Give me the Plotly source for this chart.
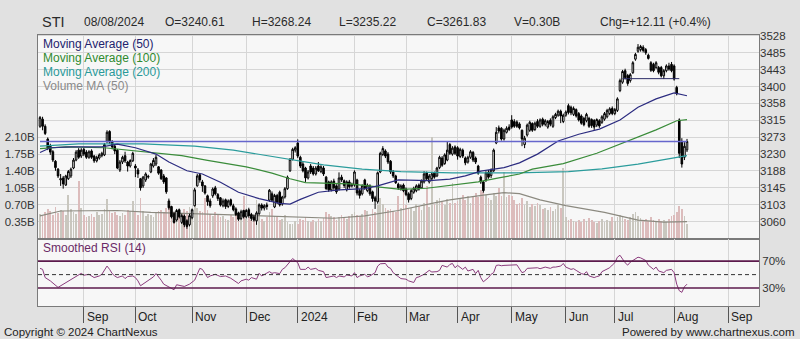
import pandas as pd
import plotly.graph_objects as go

# ---------------- data ----------------
holidays = ["2023-08-09", "2023-09-01", "2023-11-13", "2023-12-25", "2024-01-01",
            "2024-02-12", "2024-03-29", "2024-04-10", "2024-05-01", "2024-05-22",
            "2024-06-17", "2024-08-09"]

opens = [
    # Aug 2023
    3300, 3318, 3300, 3268, 3250, 3236, 3212, 3192, 3165, 3170, 3152, 3168, 3175, 3195, 3215, 3240, 3225,
    # Sep
    3242, 3235, 3222, 3238, 3225, 3213, 3220, 3226, 3228, 3262, 3287, 3262, 3250, 3240, 3190, 3210, 3226, 3210, 3200, 3213,
    # Oct
    3200, 3190, 3168, 3150, 3165, 3172, 3185, 3200, 3205, 3198, 3190, 3175, 3170, 3112, 3098, 3080, 3064, 3090, 3058, 3074, 3062, 3052,
    # Nov
    3070, 3100, 3150, 3178, 3160, 3150, 3125, 3112, 3125, 3145, 3128, 3120, 3100, 3115, 3098, 3115, 3100, 3092, 3082, 3068, 3088,
    # Dec
    3072, 3090, 3078, 3072, 3062, 3080, 3102, 3094, 3102, 3114, 3130, 3097, 3126, 3134, 3104, 3122, 3143, 3188, 3217, 3240,
    # Jan 2024
    3258, 3222, 3205, 3195, 3170, 3200, 3195, 3180, 3200, 3186, 3195, 3172, 3160, 3140, 3162, 3150, 3142, 3172, 3163, 3140, 3160, 3150,
    # Feb
    3152, 3165, 3138, 3130, 3165, 3138, 3150, 3135, 3120, 3110, 3185, 3229, 3238, 3230, 3212, 3185, 3175, 3154, 3142, 3152,
    # Mar
    3142, 3130, 3118, 3134, 3138, 3152, 3145, 3160, 3183, 3160, 3168, 3182, 3175, 3196, 3220, 3206, 3215, 3254, 3230, 3248,
    # Apr
    3246, 3224, 3240, 3220, 3210, 3222, 3234, 3220, 3200, 3172, 3160, 3165, 3185, 3176, 3188, 3258, 3296, 3295, 3268, 3285, 3298,
    # May
    3316, 3312, 3311, 3306, 3290, 3254, 3278, 3290, 3307, 3292, 3312, 3300, 3318, 3305, 3298, 3315, 3300, 3322, 3328, 3338, 3312,
    # Jun
    3328, 3352, 3348, 3330, 3342, 3332, 3326, 3320, 3314, 3320, 3317, 3315, 3303, 3314, 3310, 3318, 3324, 3332, 3345,
    # Jul
    3332, 3340, 3390, 3411, 3440, 3428, 3415, 3435, 3469, 3489, 3493, 3499, 3493, 3479, 3460, 3456, 3448, 3448, 3448, 3427, 3440, 3452, 3456,
    # Aug
    3452, 3398, 3316, 3262, 3222, 3240.61,
]
highs = [
    3326, 3324, 3305, 3272, 3256, 3240, 3215, 3195, 3180, 3175, 3178, 3190, 3196, 3220, 3240, 3245, 3245,
    3246, 3240, 3240, 3242, 3228, 3226, 3232, 3236, 3258, 3290, 3290, 3265, 3254, 3243, 3215, 3226, 3236, 3213, 3217, 3236,
    3205, 3195, 3170, 3175, 3184, 3178, 3208, 3220, 3228, 3200, 3192, 3180, 3172, 3118, 3100, 3085, 3092, 3093, 3080, 3078, 3066, 3080,
    3093, 3145, 3180, 3182, 3165, 3152, 3128, 3118, 3146, 3150, 3132, 3122, 3118, 3118, 3116, 3118, 3105, 3096, 3085, 3090, 3090,
    3092, 3095, 3082, 3078, 3086, 3106, 3106, 3104, 3108, 3142, 3136, 3130, 3130, 3138, 3125, 3147, 3176, 3220, 3246, 3250,
    3267, 3226, 3210, 3198, 3190, 3205, 3200, 3200, 3210, 3202, 3200, 3175, 3163, 3164, 3168, 3154, 3184, 3178, 3166, 3164, 3165, 3158,
    3189, 3168, 3142, 3154, 3168, 3156, 3154, 3138, 3125, 3186, 3236, 3250, 3242, 3235, 3215, 3190, 3178, 3158, 3154, 3156,
    3146, 3134, 3142, 3148, 3154, 3156, 3166, 3187, 3186, 3180, 3184, 3186, 3198, 3226, 3225, 3232, 3262, 3258, 3250, 3252,
    3250, 3246, 3244, 3224, 3226, 3240, 3238, 3224, 3203, 3176, 3163, 3187, 3190, 3194, 3244, 3298, 3302, 3298, 3294, 3300, 3305,
    3328, 3318, 3315, 3310, 3292, 3276, 3307, 3314, 3310, 3312, 3318, 3320, 3322, 3318, 3316, 3320, 3328, 3334, 3342, 3342, 3332,
    3340, 3357, 3352, 3350, 3345, 3336, 3330, 3324, 3334, 3324, 3320, 3318, 3320, 3318, 3328, 3336, 3344, 3348, 3350,
    3346, 3373, 3420, 3442, 3445, 3432, 3434, 3464, 3485, 3507, 3505, 3504, 3497, 3483, 3464, 3460, 3464, 3452, 3452, 3444, 3456, 3460, 3462,
    3456, 3402, 3320, 3270, 3260, 3268.24,
]
lows = [
    3296, 3290, 3278, 3240, 3228, 3210, 3188, 3170, 3150, 3143, 3150, 3165, 3170, 3192, 3212, 3218, 3220,
    3225, 3218, 3218, 3218, 3208, 3209, 3216, 3222, 3225, 3258, 3256, 3242, 3230, 3192, 3185, 3205, 3208, 3186, 3196, 3210,
    3172, 3170, 3138, 3145, 3160, 3168, 3182, 3196, 3200, 3178, 3165, 3155, 3130, 3090, 3068, 3055, 3060, 3068, 3054, 3046, 3042, 3048,
    3066, 3098, 3148, 3158, 3135, 3128, 3100, 3095, 3120, 3126, 3112, 3098, 3096, 3092, 3094, 3098, 3086, 3074, 3062, 3064, 3068,
    3068, 3070, 3062, 3060, 3052, 3076, 3088, 3088, 3090, 3110, 3110, 3094, 3104, 3098, 3100, 3118, 3140, 3185, 3214, 3234,
    3220, 3195, 3184, 3160, 3166, 3180, 3176, 3176, 3185, 3182, 3175, 3140, 3135, 3136, 3140, 3130, 3138, 3160, 3145, 3136, 3143, 3146,
    3148, 3126, 3118, 3126, 3140, 3134, 3125, 3110, 3092, 3105, 3182, 3225, 3220, 3205, 3180, 3170, 3155, 3140, 3138, 3134,
    3124, 3108, 3114, 3130, 3134, 3138, 3142, 3156, 3163, 3156, 3165, 3168, 3172, 3192, 3198, 3203, 3212, 3228, 3226, 3228,
    3216, 3220, 3220, 3202, 3206, 3218, 3210, 3205, 3178, 3155, 3133, 3160, 3168, 3170, 3185, 3255, 3282, 3264, 3264, 3282, 3288,
    3294, 3296, 3296, 3292, 3250, 3245, 3274, 3286, 3286, 3288, 3296, 3296, 3300, 3300, 3294, 3300, 3296, 3318, 3324, 3308, 3308,
    3324, 3330, 3328, 3326, 3322, 3312, 3304, 3300, 3310, 3296, 3296, 3291, 3298, 3296, 3306, 3314, 3320, 3328, 3328,
    3328, 3336, 3386, 3407, 3418, 3402, 3410, 3432, 3465, 3485, 3488, 3486, 3480, 3468, 3437, 3436, 3444, 3431, 3423, 3419, 3436, 3440, 3436,
    3415, 3378, 3220, 3196, 3215, 3235.22,
]
closes = [
    3322, 3300, 3282, 3245, 3235, 3215, 3196, 3175, 3168, 3155, 3175, 3186, 3192, 3215, 3235, 3222, 3240,
    3230, 3222, 3236, 3222, 3213, 3222, 3228, 3232, 3254, 3285, 3260, 3248, 3238, 3195, 3210, 3222, 3213, 3200, 3214, 3232,
    3195, 3180, 3145, 3172, 3180, 3174, 3205, 3214, 3222, 3182, 3168, 3160, 3135, 3095, 3072, 3058, 3088, 3072, 3075, 3052, 3048, 3075,
    3090, 3140, 3175, 3165, 3150, 3132, 3110, 3100, 3142, 3130, 3118, 3102, 3112, 3098, 3112, 3102, 3090, 3078, 3066, 3085, 3072,
    3088, 3075, 3068, 3064, 3082, 3102, 3094, 3100, 3098, 3139, 3114, 3126, 3108, 3102, 3122, 3143, 3172, 3217, 3242, 3246,
    3225, 3200, 3188, 3170, 3185, 3185, 3180, 3195, 3188, 3198, 3180, 3143, 3140, 3160, 3145, 3135, 3170, 3165, 3151, 3160, 3148, 3153,
    3185, 3132, 3126, 3150, 3145, 3152, 3130, 3118, 3112, 3183, 3232, 3244, 3225, 3210, 3185, 3175, 3158, 3145, 3150, 3138,
    3128, 3115, 3138, 3144, 3150, 3142, 3162, 3180, 3168, 3175, 3180, 3172, 3195, 3222, 3202, 3228, 3240, 3232, 3245, 3232,
    3225, 3242, 3225, 3208, 3222, 3236, 3215, 3210, 3182, 3160, 3138, 3183, 3172, 3190, 3240, 3285, 3288, 3268, 3290, 3295, 3292,
    3298, 3300, 3300, 3296, 3268, 3270, 3303, 3310, 3290, 3308, 3300, 3316, 3305, 3314, 3312, 3305, 3324, 3330, 3338, 3326, 3328,
    3336, 3335, 3334, 3345, 3326, 3316, 3308, 3304, 3330, 3300, 3302, 3298, 3317, 3301, 3324, 3332, 3340, 3344, 3332,
    3342, 3369, 3415, 3438, 3423, 3408, 3430, 3460, 3481, 3499, 3501, 3491, 3485, 3471, 3441, 3440, 3460, 3436, 3427, 3440, 3452, 3444, 3440,
    3419, 3382, 3232, 3205, 3249.72, 3261.83,
]
volumes_b = [
    0.52, 0.48, 0.55, 0.62, 0.58, 0.50, 0.66, 0.54, 0.60, 0.57, 0.49, 0.91, 0.62, 0.55, 0.52, 1.20, 0.64,
    0.50, 0.45, 0.48, 0.52, 0.46, 0.55, 0.49, 0.51, 0.62, 0.82, 0.58, 0.54, 0.56, 0.50, 0.47, 0.53, 0.49, 0.60, 0.58, 0.78,
    0.55, 0.50, 0.85, 0.58, 0.48, 0.52, 0.50, 0.46, 0.55, 0.58, 0.60, 0.56, 0.65, 0.70, 0.62, 0.55, 0.58, 0.50, 0.54, 0.62, 0.57, 0.66,
    0.60, 0.72, 0.65, 0.58, 0.55, 0.85, 0.60, 0.52, 0.48, 0.55, 0.50, 0.45, 0.48, 0.42, 0.40, 0.50, 0.46, 0.52, 0.48, 0.44, 0.88,
    0.42, 0.45, 0.40, 0.44, 0.80, 0.50, 0.42, 0.38, 0.46, 0.55, 0.62, 0.48, 0.45, 0.40, 0.42, 0.50, 0.35, 0.30, 0.32, 0.38,
    0.30, 0.42, 0.40, 0.45, 0.38, 0.36, 0.40, 0.35, 0.42, 0.38, 0.44, 0.55, 0.52, 0.48, 0.45, 0.40, 0.46, 0.50, 0.44, 0.42, 0.48, 0.52,
    0.55, 0.50, 0.48, 0.52, 0.60, 0.58, 0.45, 0.62, 0.55, 0.70, 0.85, 0.72, 0.65, 0.60, 0.62, 0.58, 0.56, 0.90, 0.64, 1.05,
    0.70, 0.62, 0.65, 0.58, 0.72, 0.68, 0.60, 0.75, 1.10, 0.66, 2.12, 0.72, 0.80, 0.85, 0.76, 0.70, 0.82, 0.75, 1.15, 0.74,
    0.78, 0.85, 0.92, 0.80, 0.88, 0.75, 0.90, 0.95, 0.86, 1.02, 0.98, 0.92, 0.85, 0.80, 0.96, 0.88, 1.05, 0.90, 1.39, 0.86, 0.92,
    0.88, 0.80, 0.72, 0.75, 0.85, 0.70, 0.78, 0.66, 0.72, 0.68, 0.74, 0.70, 0.62, 0.65, 0.60, 0.66, 0.58, 0.62, 0.70, 0.64, 1.46,
    0.45, 0.40, 0.42, 0.38, 0.36, 0.40, 0.35, 0.42, 0.38, 0.44, 0.40, 0.36, 0.33, 0.38, 0.42, 0.35, 0.40, 0.37, 0.45,
    0.38, 0.45, 0.50, 0.48, 0.42, 0.40, 0.45, 0.52, 0.55, 0.48, 0.44, 0.40, 0.42, 0.38, 0.46, 0.40, 0.36, 0.42, 0.38, 0.40, 0.35, 0.42, 0.48,
    0.50, 0.55, 0.68, 0.62, 0.48, 0.30,
]

# moving averages read at sample points (trading-day index, value)
ma50_idx = [0, 4, 12, 24, 30, 37, 45, 50, 57, 63, 70, 77, 85, 93, 97, 101, 108, 116, 126, 131, 139, 151,
            159, 165, 171, 180, 186, 193, 201, 209, 217, 225, 232, 239, 246, 251]
ma50_val = [3234, 3246, 3248, 3248, 3255, 3246, 3230, 3210, 3188, 3180, 3159, 3134, 3118, 3106, 3104, 3116,
            3134, 3140, 3143, 3150, 3165, 3163, 3167, 3175, 3187, 3196, 3208, 3230, 3263, 3280, 3293, 3316,
            3348, 3369, 3384, 3377]
ma100_idx = [0, 10, 25, 40, 55, 65, 80, 90, 97, 103, 120, 130, 140, 150, 160, 170, 178, 186, 191, 203,
             216, 229, 239, 247, 251]
ma100_val = [3244, 3248, 3246, 3236, 3226, 3214, 3198, 3182, 3168, 3158, 3155, 3148, 3141, 3144, 3152,
             3160, 3170, 3180, 3192, 3206, 3232, 3266, 3291, 3314, 3317]
ma200_idx = [0, 15, 40, 60, 75, 97, 110, 125, 140, 160, 185, 205, 218, 232, 242, 251]
ma200_val = [3250, 3256, 3256, 3250, 3240, 3216, 3203, 3192, 3186, 3183, 3183, 3186, 3193, 3205, 3217, 3226]
volma_idx = [0, 8, 30, 43, 62, 88, 107, 114, 126, 139, 153, 159, 172, 180, 186, 194, 204, 219, 232, 242, 251]
volma_val = [0.47, 0.57, 0.58, 0.54, 0.51, 0.47, 0.44, 0.42, 0.47, 0.58, 0.74, 0.80, 0.90, 0.95, 0.93,
             0.80, 0.68, 0.54, 0.38, 0.34, 0.35]

# smoothed RSI(14) read at sample points
rsi_idx = [0, 1, 2, 4, 7, 8, 10, 12, 14, 16, 17, 19, 21, 23, 24, 26, 27, 28, 29, 30, 32, 33, 34, 36, 37, 38,
           39, 41, 42, 44, 45, 46, 47, 48, 50, 52, 53, 54, 56, 58, 60, 61, 62, 63, 64, 65, 66, 68, 70, 72,
           74, 75, 77, 78, 79, 80, 81, 82, 84, 85, 86, 87, 89, 90, 91, 93, 94, 95, 97, 98, 100, 101, 103,
           104, 105, 107, 108, 110, 111, 112, 114, 115, 116, 118, 119, 121, 122, 123, 124, 126, 127, 128,
           130, 131, 132, 134, 135, 136, 137, 139, 140, 142, 143, 145, 146, 147, 148, 149, 151, 152, 154,
           155, 156, 158, 159, 160, 161, 162, 164, 165, 166, 168, 169, 170, 171, 172, 174, 175, 176, 177,
           178, 179, 180, 182, 184, 185, 187, 188, 189, 191, 193, 194, 195, 196, 198, 199, 200, 202, 203,
           204, 206, 207, 208, 210, 211, 212, 213, 215, 216, 217, 218, 220, 221, 222, 223, 224, 225, 227,
           228, 229, 230, 232, 233, 235, 236, 237, 238, 239, 240, 242, 243, 245, 246, 247, 248, 249, 250, 251]
rsi_val = [59.3, 57.8, 45.6, 40.7, 31.0, 33.4, 38.3, 43.2, 48.0, 51.9, 49.0, 50.5, 45.6, 48.0, 50.5, 62.7,
           57.8, 51.5, 48.0, 45.6, 48.0, 44.1, 47.1, 48.0, 45.6, 40.7, 33.4, 38.3, 40.7, 46.6, 51.5, 47.1,
           41.7, 35.8, 31.9, 27.5, 34.9, 34.4, 32.4, 35.8, 41.7, 50.5, 59.3, 57.8, 50.5, 45.6, 48.0, 50.5,
           47.1, 48.0, 44.6, 41.7, 36.8, 40.7, 41.7, 43.2, 41.7, 45.6, 43.2, 51.9, 48.0, 50.5, 54.4, 51.9,
           52.9, 51.5, 57.8, 60.2, 70.0, 73.9, 67.6, 57.8, 57.8, 61.2, 57.8, 59.3, 56.3, 54.4, 45.6, 46.6,
           48.0, 45.6, 48.0, 46.6, 49.5, 48.0, 52.9, 45.6, 48.0, 50.5, 46.6, 48.0, 52.9, 62.7, 66.1, 66.6,
           61.2, 59.3, 52.9, 47.1, 44.1, 43.2, 40.7, 38.3, 45.6, 46.6, 48.0, 50.5, 56.3, 53.9, 54.4, 56.3,
           63.7, 61.2, 65.1, 66.6, 60.2, 63.7, 57.8, 61.2, 55.4, 57.8, 51.5, 56.3, 45.6, 39.3, 45.6, 50.5,
           52.9, 63.7, 64.2, 63.2, 63.7, 64.2, 64.6, 64.6, 52.9, 54.4, 59.3, 60.2, 60.2, 58.8, 60.2, 61.2,
           59.3, 61.2, 61.2, 62.7, 66.6, 61.2, 57.8, 58.8, 56.3, 51.5, 50.5, 54.4, 48.0, 45.6, 47.1, 48.0,
           54.4, 58.8, 60.2, 64.2, 67.6, 75.9, 78.8, 67.6, 64.1, 68.5, 71.0, 75.9, 74.9, 71.0, 64.1, 60.2,
           57.8, 61.2, 55.4, 52.9, 56.3, 57.8, 52.9, 35.8, 26.1, 23.6, 31.9, 35.8]

support_idx = [226, 248]
support_level = 3420

price_ticks = [3060, 3103, 3145, 3188, 3230, 3273, 3315, 3358, 3400, 3443, 3485, 3528]
vol_ticks = [0.35, 0.70, 1.05, 1.40, 1.75, 2.10]
rsi_ticks = [30, 70]
month_names = {1: "2024", 2: "Feb", 3: "Mar", 4: "Apr", 5: "May", 6: "Jun", 7: "Jul",
               8: "Aug", 9: "Sep", 10: "Oct", 11: "Nov", 12: "Dec"}

# ---------------- build ----------------
all_days = [d for d in pd.bdate_range("2023-08-08", "2024-10-31")
            if d.strftime("%Y-%m-%d") not in holidays]
n = min(len(opens), len(highs), len(lows), len(closes), len(volumes_b))
dates = [d.strftime("%Y-%m-%d") for d in all_days[:n]]

FONT = "Liberation Sans, Arial, sans-serif"
W, H = 800, 339
PX0, PX1 = 38, 759
xdom = [PX0 / W, PX1 / W]
main_dom = [1 - 237 / H, 1 - 30 / H]
rsi_dom = [1 - 306 / H, 1 - 237 / H]

px_per_day = (687 - 40) / (n - 1)
day_ms = 86400000
x_start = all_days[0] - pd.Timedelta(days=(40 - PX0) / px_per_day)
k_end = (PX1 - 40) / px_per_day
x_end = all_days[int(k_end)] + pd.Timedelta(days=k_end - int(k_end))

month_starts = []
seen = set()
for d in all_days:
    key = (d.year, d.month)
    if key not in seen and d >= pd.Timestamp("2023-09-01") and d <= x_end:
        seen.add(key)
        month_starts.append(d)
month_vals = [d.strftime("%Y-%m-%d") for d in month_starts]

price_range = [3017.5, 3531]
step = (price_ticks[-1] - price_ticks[0]) / (len(price_ticks) - 1)
base = price_ticks[0] - step
vol_range = [(p - base) / step * vol_ticks[0] for p in price_range]

rangebreaks = [dict(bounds=["sat", "mon"]), dict(values=holidays)]

fig = go.Figure()

# volume bars: thin, light gray on up days, light pink on down days
vol_colors = ["#c9c7bf" if closes[i] >= opens[i] else "#dcbcbc" for i in range(n)]
fig.add_trace(go.Bar(x=dates, y=volumes_b[:n], marker=dict(color=vol_colors, line=dict(width=0)),
                     width=0.3 * day_ms, xaxis="x", yaxis="y", hoverinfo="skip"))
fig.add_trace(go.Scatter(x=[dates[i] for i in volma_idx], y=volma_val, mode="lines",
                         line=dict(color="#8c8a80", width=1.2), xaxis="x", yaxis="y"))

for idx, val, col in [(ma200_idx, ma200_val, "#2b9c9c"),
                      (ma100_idx, ma100_val, "#3a8c3a"),
                      (ma50_idx, ma50_val, "#2c2c80")]:
    fig.add_trace(go.Scatter(x=[dates[i] for i in idx], y=val, mode="lines",
                             line=dict(color=col, width=1.2), xaxis="x", yaxis="y2"))

fig.add_trace(go.Scatter(x=[dates[0], dates[n - 1]], y=[closes[n - 1]] * 2, mode="lines",
                         line=dict(color="#6666cc", width=1.5), xaxis="x", yaxis="y2"))
fig.add_trace(go.Scatter(x=[dates[support_idx[0]], dates[support_idx[1]]], y=[support_level] * 2,
                         mode="lines", line=dict(color="#2a2a66", width=1), xaxis="x", yaxis="y2"))

fig.add_trace(go.Candlestick(
    x=dates, open=opens[:n], high=highs[:n], low=lows[:n], close=closes[:n],
    increasing=dict(line=dict(color="#000000", width=1), fillcolor="#ffffff"),
    decreasing=dict(line=dict(color="#000000", width=1), fillcolor="#000000"),
    whiskerwidth=0, xaxis="x", yaxis="y2", hoverinfo="skip"))

fig.add_trace(go.Scatter(x=[dates[i] for i in rsi_idx], y=rsi_val, mode="lines",
                         line=dict(color="#8a3a7c", width=1), xaxis="x2", yaxis="y3"))

grid = "#d6d6d6"
border = "#7a7a7a"
fig.update_layout(
    width=W, height=H, autosize=False,
    margin=dict(l=0, r=0, t=0, b=0),
    paper_bgcolor="#e1e1e1", plot_bgcolor="#f7f7f7",
    showlegend=False, boxgap=0.12, bargap=0,
    font=dict(family=FONT, size=12, color="#222222"),
    xaxis=dict(domain=xdom, anchor="y", type="date", range=[x_start, x_end],
               rangebreaks=rangebreaks, tickvals=month_vals, showticklabels=False,
               showgrid=True, gridcolor=grid, gridwidth=1, ticks="",
               showline=True, mirror=True, linecolor=border, linewidth=1,
               rangeslider=dict(visible=False), zeroline=False),
    xaxis2=dict(domain=xdom, anchor="y3", type="date", matches="x",
                rangebreaks=rangebreaks, tickvals=month_vals, showticklabels=False,
                showgrid=True, gridcolor=grid, gridwidth=1,
                ticks="outside", ticklen=16, tickcolor="#555555", tickwidth=1,
                showline=True, mirror=True, linecolor=border, linewidth=1, zeroline=False),
    yaxis=dict(domain=main_dom, anchor="x", side="left", range=vol_range,
               tickvals=vol_ticks, ticktext=["%.2fB" % v for v in vol_ticks],
               showgrid=False, zeroline=False, ticks="",
               tickfont=dict(size=11.5, color="#333333"),
               showline=True, mirror=True, linecolor=border, linewidth=1),
    yaxis2=dict(overlaying="y", anchor="x", side="right", range=price_range,
                tickvals=price_ticks, ticktext=[str(v) for v in price_ticks],
                showgrid=True, gridcolor=grid, gridwidth=1, zeroline=False, ticks="",
                tickfont=dict(size=11.5, color="#333333")),
    yaxis3=dict(domain=rsi_dom, anchor="x2", side="right", range=[2.6, 103.7],
                tickvals=rsi_ticks, ticktext=["%d%%" % v for v in rsi_ticks],
                showgrid=False, zeroline=False, ticks="",
                tickfont=dict(size=11.5, color="#333333"),
                showline=True, mirror=True, linecolor=border, linewidth=1),
)

for lvl in rsi_ticks:
    fig.add_shape(type="line", xref="x2 domain", yref="y3", x0=0, x1=1, y0=lvl, y1=lvl,
                  line=dict(color="#5c1a4c", width=1.6))
fig.add_shape(type="line", xref="x2 domain", yref="y3", x0=0, x1=1, y0=50, y1=50,
              line=dict(color="#333333", width=1, dash="4px,3px"))

ann = []
def txt(x_px, y_px, s, size=12, color="#222222", anchor="left"):
    ann.append(dict(x=x_px / W, y=1 - y_px / H, xref="paper", yref="paper", text=s,
                    showarrow=False, xanchor=anchor, yanchor="middle",
                    font=dict(family=FONT, size=size, color=color)))

chg = closes[n - 1] - closes[n - 2]
pct = chg / closes[n - 2] * 100
header = [(40, "STI", 14.5), (82, pd.Timestamp(dates[n - 1]).strftime("%d/%m/%Y"), 12),
          (163, "O=%.2f" % opens[n - 1], 12), (250, "H=%.2f" % highs[n - 1], 12),
          (337, "L=%.2f" % lows[n - 1], 12), (425, "C=%.2f" % closes[n - 1], 12),
          (512, "V=%.2fB" % volumes_b[n - 1], 12), (598, "Chg=%+.2f (%+.1f%%)" % (chg, pct), 12)]
for xp, s, sz in header:
    txt(xp, 17, s, size=sz, color="#2a2a2a")

txt(41, 40, "Moving Average (50)", 12, "#23236e")
txt(41, 54, "Moving Average (100)", 12, "#2f8a2f")
txt(41, 68, "Moving Average (200)", 12, "#2a9a9a")
txt(41, 82, "Volume MA (50)", 12, "#8a8a8a")
txt(41, 247, "Smoothed RSI (14)", 12, "#6a2a66")
txt(2, 332, "Copyright \u00a9 2024 ChartNexus", 11.5, "#222222")
txt(797, 332, "Powered by www.chartnexus.com", 11.5, "#222222", anchor="right")

for d in month_starts:
    ann.append(dict(x=d.strftime("%Y-%m-%d"), y=1 - 317 / H, xref="x2", yref="paper",
                    text=month_names[d.month], showarrow=False, xanchor="left", yanchor="middle",
                    xshift=1, font=dict(family=FONT, size=12, color="#222222")))

fig.update_layout(annotations=ann)
fig.write_html("out.html")
